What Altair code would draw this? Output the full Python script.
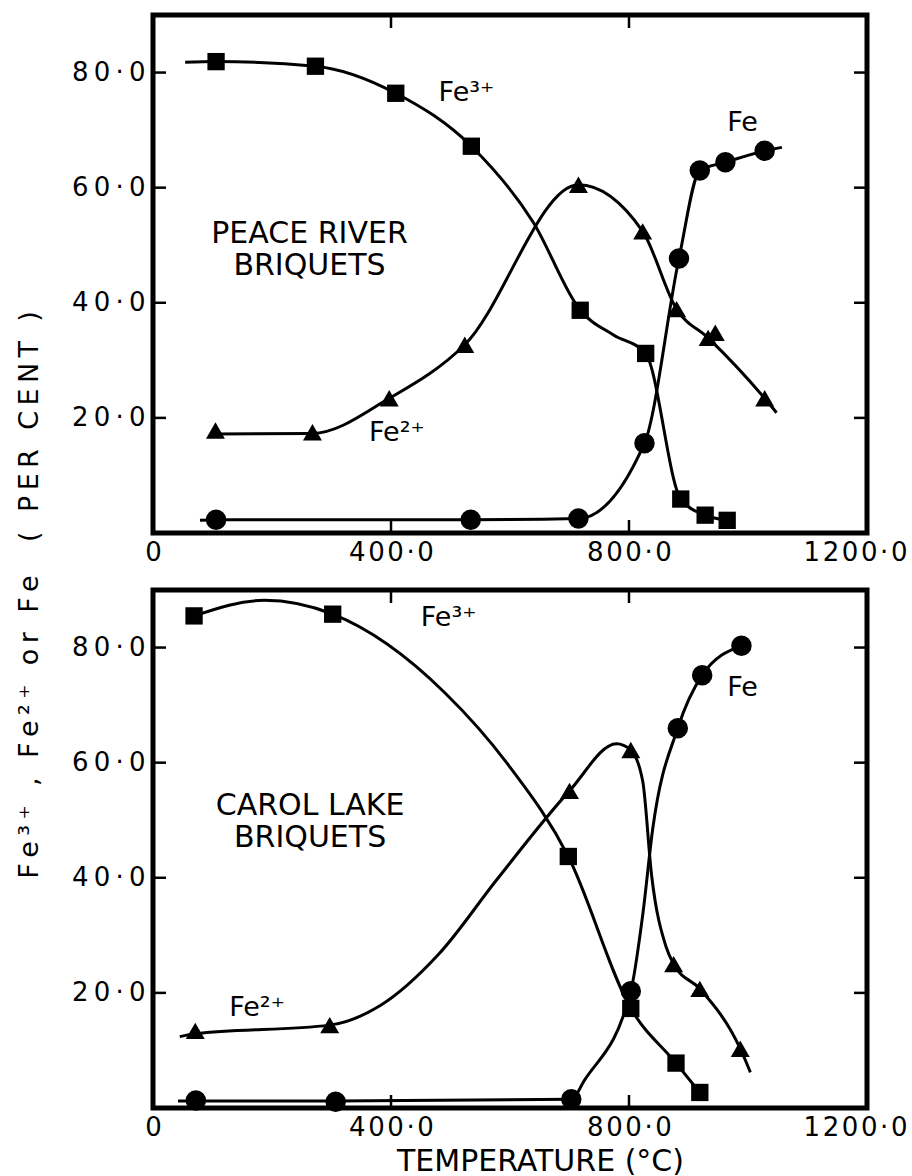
import altair as alt
import pandas as pd

SERIES = ["Fe3+", "Fe2+", "Fe"]
SHAPES = ["square", "triangle-up", "circle"]
SIZES = [300, 420, 270]

# ---------------- Peace River briquets (top panel) ----------------
# measured points (markers)
pr_fe3_x = [106, 273, 408, 535, 718, 828, 887, 928, 965]
pr_fe3_y = [81.9, 81.1, 76.4, 67.2, 38.7, 31.2, 5.9, 3.1, 2.2]
pr_fe2_x = [105, 268, 397, 524, 715, 823, 880, 933, 945, 1028]
pr_fe2_y = [17.8, 17.5, 23.4, 32.7, 60.5, 52.4, 38.9, 33.9, 34.8, 23.4]
pr_fe_x = [106, 534, 715, 826, 884, 919, 962, 1028]
pr_fe_y = [2.3, 2.3, 2.5, 15.6, 47.7, 63.0, 64.4, 66.4]

# drawn curves, values
pr_fe3_cx = [54, 106, 273, 408, 535, 639, 718, 774, 828, 887, 928, 965]
pr_fe3_cy = [81.8, 81.9, 81.1, 76.4, 67.2, 54.0, 38.7, 34.4, 31.2, 5.9, 3.1, 2.2]
pr_fe2_cx = [105, 268, 397, 524, 715, 823, 880, 933, 1028, 1048]
pr_fe2_cy = [17.2, 17.3, 23.4, 32.7, 60.5, 52.4, 38.9, 33.9, 23.4, 20.9]
pr_fe_cx = [79, 106, 534, 715, 826, 884, 919, 962, 1028, 1057]
pr_fe_cy = [2.2, 2.3, 2.3, 2.5, 15.6, 47.7, 63.0, 64.4, 66.4, 67.0]

# ---------------- Carol Lake briquets (bottom panel) ----------------
cl_fe3_x = [69, 302, 698, 803, 879, 919]
cl_fe3_y = [85.5, 85.8, 43.7, 17.3, 7.8, 2.7]
cl_fe2_x = [71, 297, 700, 803, 875, 919, 987]
cl_fe2_y = [13.4, 14.4, 55.1, 62.2, 25.0, 20.7, 10.3]
cl_fe_x = [72, 307, 703, 803, 882, 923, 989]
cl_fe_y = [1.3, 1.1, 1.5, 20.3, 66.0, 75.2, 80.3]

cl_fe3_cx = [69, 187, 302, 490, 598, 698, 803, 879, 919]
cl_fe3_cy = [85.5, 88.2, 85.8, 72.2, 59.5, 43.7, 17.3, 7.8, 2.7]
cl_fe2_cx = [45, 71, 297, 382, 480, 578, 700, 779, 803, 823, 838, 862, 875, 919, 987, 1004]
cl_fe2_cy = [12.4, 12.9, 14.4, 17.8, 26.7, 39.7, 55.1, 63.3, 62.2, 56.8, 40.4, 28.1, 25.0, 20.7, 10.3, 6.2]
cl_fe_cx = [42, 72, 307, 703, 725, 803, 823, 840, 882, 923, 989]
cl_fe_cy = [1.2, 1.2, 1.2, 1.5, 4.8, 20.3, 33.5, 48.6, 66.0, 75.2, 80.3]

# axis ticks / labels
x_tick_values = [0, 400, 800, 1200]
x_tick_labels = ["0", "400·0", "800·0", "1200·0"]
y_tick_values = [20, 40, 60, 80]
y_tick_labels = ["20·0", "40·0", "60·0", "80·0"]
x_inner_ticks = [400, 800]

x_title = "TEMPERATURE (°C)"
y_title = "Fe³⁺ , Fe²⁺ or Fe  ( PER CENT )"

# annotations: (text, x, y, font size, align)
pr_notes = [
    ("PEACE RIVER\nBRIQUETS", 263, 52.0, 30, "center"),
    ("Fe³⁺", 480, 76.5, 27, "left"),
    ("Fe²⁺", 363, 17.4, 27, "left"),
    ("Fe", 965, 71.3, 27, "left"),
]
cl_notes = [
    ("CAROL LAKE\nBRIQUETS", 264, 52.4, 30, "center"),
    ("Fe³⁺", 450, 85.1, 27, "left"),
    ("Fe²⁺", 128, 17.3, 27, "left"),
    ("Fe", 965, 73.0, 27, "left"),
]

FONT = "DejaVu Sans"
W, H = 714, 518
TICK = 13
THIN = "\u2009"
HAIR = "\u200a"


def label_expr(values, labels, sep):
    expr = "''"
    for v, lab in reversed(list(zip(values, labels))):
        spaced = sep.join(list(lab))
        expr = f"datum.value == {v} ? '{spaced}' : ({expr})"
    return expr


def frame(series_pts):
    rows = []
    for s, (xs, ys) in zip(SERIES, series_pts):
        for i, (a, b) in enumerate(zip(xs, ys)):
            rows.append({"series": s, "x": a, "y": b, "i": i})
    return pd.DataFrame(rows)


def panel(markers, curves, notes, show_title):
    xs = alt.Scale(domain=[0, 1200], nice=False, zero=False)
    ys = alt.Scale(domain=[0, 90], nice=False, zero=False)
    common_x = dict(values=x_tick_values, labelExpr=label_expr(x_tick_values, x_tick_labels, HAIR),
                    ticks=False, domain=False, grid=False, labelPadding=6, labelFlush=False,
                    labelOffset={"condition": {"test": "datum.value == 1200", "value": -12}, "value": 0},
                    labelFontSize=26, labelFont=FONT, labelColor="black")
    if show_title:
        x_axis = alt.Axis(title=x_title, titleFont=FONT, titleFontSize=30, titleFontWeight="normal",
                          titleColor="black", titleX=387, titleY=53, titleAlign="center",
                          titleBaseline="middle", **common_x)
    else:
        x_axis = alt.Axis(title=None, **common_x)
    y_axis = alt.Axis(values=y_tick_values, labelExpr=label_expr(y_tick_values, y_tick_labels, THIN),
                      ticks=False, domain=False, grid=False, labelPadding=8,
                      labelFontSize=26, labelFont=FONT, labelColor="black", title=None)

    X = lambda f: alt.X(f, scale=xs, axis=x_axis)
    Y = lambda f: alt.Y(f, scale=ys, axis=y_axis)

    lines = alt.Chart(curves).mark_line(interpolate="monotone", color="black", strokeWidth=3).encode(
        x=X("x:Q"), y=Y("y:Q"), detail="series:N", order="i:Q",
    )
    pts = alt.Chart(markers).mark_point(filled=True, opacity=1, color="black").encode(
        x=X("x:Q"), y=Y("y:Q"),
        shape=alt.Shape("series:N", scale=alt.Scale(domain=SERIES, range=SHAPES), legend=None),
        size=alt.Size("series:N", scale=alt.Scale(domain=SERIES, range=SIZES), legend=None),
    )
    ydf = pd.DataFrame({"x": [0] * len(y_tick_values), "y": y_tick_values})
    xdf = pd.DataFrame({"x": x_inner_ticks, "y": [0] * len(x_inner_ticks)})
    lt = alt.Chart(ydf).mark_rule(color="black", strokeWidth=2.5).encode(
        y=Y("y:Q"), x=alt.value(0), x2=alt.value(TICK))
    rt = alt.Chart(ydf).mark_rule(color="black", strokeWidth=2.5).encode(
        y=Y("y:Q"), x=alt.value(W - TICK), x2=alt.value(W))
    tt = alt.Chart(xdf).mark_rule(color="black", strokeWidth=2.5).encode(
        x=X("x:Q"), y=alt.value(0), y2=alt.value(TICK))
    bt = alt.Chart(xdf).mark_rule(color="black", strokeWidth=2.5).encode(
        x=X("x:Q"), y=alt.value(H - TICK), y2=alt.value(H))

    layers = [lines, pts, lt, rt, tt, bt]
    for n in notes:
        ndf = pd.DataFrame([{"t": n[0], "x": n[1], "y": n[2]}])
        layers.append(alt.Chart(ndf).mark_text(align=n[4], baseline="middle", font=FONT,
                                               fontSize=n[3], color="black", lineBreak="\n",
                                               lineHeight=32).encode(
            x=X("x:Q"), y=Y("y:Q"), text="t:N"))
    return alt.layer(*layers).properties(width=W, height=H)


pr_markers = frame([(pr_fe3_x, pr_fe3_y), (pr_fe2_x, pr_fe2_y), (pr_fe_x, pr_fe_y)])
pr_curves = frame([(pr_fe3_cx, pr_fe3_cy), (pr_fe2_cx, pr_fe2_cy), (pr_fe_cx, pr_fe_cy)])
cl_markers = frame([(cl_fe3_x, cl_fe3_y), (cl_fe2_x, cl_fe2_y), (cl_fe_x, cl_fe_y)])
cl_curves = frame([(cl_fe3_cx, cl_fe3_cy), (cl_fe2_cx, cl_fe2_cy), (cl_fe_cx, cl_fe_cy)])

top = panel(pr_markers, pr_curves, pr_notes, False)
bottom = panel(cl_markers, cl_curves, cl_notes, True)

chart = alt.vconcat(
    top, bottom, spacing=57, bounds="flush",
    title=alt.TitleParams(text=THIN.join(list(y_title)), orient="left", anchor="middle",
                          font=FONT, fontSize=27, fontWeight="normal", color="black",
                          offset=55, dy=30),
).properties(
    padding={"left": 16, "top": 11, "right": 0, "bottom": 0},
    background="white",
).configure_view(stroke="black", strokeWidth=5)

chart.save("out.html", embed_options={"renderer": "svg", "actions": False})
